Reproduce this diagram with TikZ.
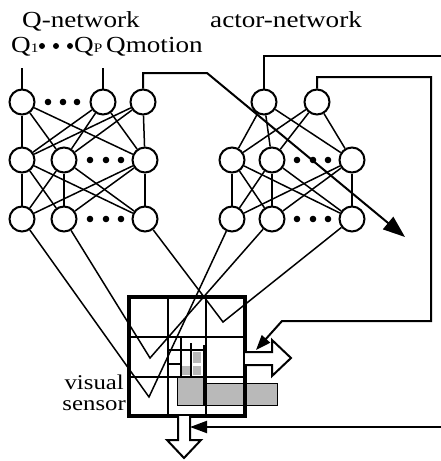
\documentclass[tikz,border=0pt]{standalone}
\usepackage{fontspec}
\setmainfont{Liberation Serif}[FakeStretch=1.18]
\usetikzlibrary{arrows.meta}

\begin{document}
\begin{tikzpicture}[x=1pt,y=-1pt,
  neuron/.style={circle,draw,line width=2pt,minimum size=25pt,inner sep=0pt},
  link/.style={line width=1.5pt},
  wire/.style={line width=2pt},
  lbl/.style={font=\fontsize{23}{23}\selectfont,inner sep=0pt,anchor=base west},
  side/.style={font=\fontsize{21}{21}\selectfont,inner sep=0pt,anchor=base east},
  hollow/.style={line width=2pt,fill=white,line join=miter},
  cell/.style={line width=1.8pt},
  fine/.style={line width=1.2pt},
  shade/.style={fill=gray!55},
]
\useasboundingbox (0,0) rectangle (441,461);

% ---------- titles and output labels ----------
\node[lbl] (tq) at (22,27) {Q-network};
\node[lbl] (ta) at (210,27) {actor-network};
\node[lbl] (lq1) at (11,52) {Q{\fontsize{13}{13}\selectfont 1}};
\node[lbl] (lqp) at (74,52) {Q{\fontsize{13}{13}\selectfont P}};
\node[lbl] (lqm) at (106,52) {Qmotion};
\foreach \x in {42,56,70} \fill (\x,46) circle (3pt);

\node[side] (tv) at (124,389) {visual};
\node[side] (ts) at (126,410) {sensor};

% ---------- Q-network neurons ----------
\node[neuron] (q11) at (22,102) {};
\node[neuron] (q12) at (103,102) {};
\node[neuron] (q13) at (143,102) {};
\node[neuron] (q21) at (22,160) {};
\node[neuron] (q22) at (64,160) {};
\node[neuron] (q23) at (145,160) {};
\node[neuron] (q31) at (22,219) {};
\node[neuron] (q32) at (64,219) {};
\node[neuron] (q33) at (145,219) {};

% ---------- actor-network neurons ----------
\node[neuron] (a11) at (264,102) {};
\node[neuron] (a12) at (317,102) {};
\node[neuron] (a21) at (232,160) {};
\node[neuron] (a22) at (272,160) {};
\node[neuron] (a23) at (352,160) {};
\node[neuron] (a31) at (232,219) {};
\node[neuron] (a32) at (272,219) {};
\node[neuron] (a33) at (352,219) {};

% ellipsis dots inside layers
\foreach \x in {48,63,77} \fill (\x,102) circle (3.3pt);
\foreach \y in {160,219} {
  \foreach \x in {90,106,121} \fill (\x,\y) circle (3.3pt);
  \foreach \x in {297,313,328} \fill (\x,\y) circle (3.3pt);
}

% full connections between layers
\foreach \i in {1,2,3} \foreach \j in {1,2,3} {
  \draw[link] (q1\i) -- (q2\j);
  \draw[link] (q2\i) -- (q3\j);
  \draw[link] (a2\i) -- (a3\j);
}
\foreach \i in {1,2} \foreach \j in {1,2,3}
  \draw[link] (a1\i) -- (a2\j);

% output leads of Q1 and QP
\coordinate (l1) at (22,68);
\coordinate (lp) at (103,68);
\draw[link] (l1) -- (q11);
\draw[link] (lp) -- (q12);

% ---------- visual sensor ----------
% shaded object regions
\filldraw[shade,line width=1pt] (177,377) -- (206,377) -- (206,383) -- (277,383)
  -- (277,405) -- (177,405) -- cycle;
\fill[shade] (193,352) rectangle (201,363);
\fill[shade] (182,366) rectangle (190,375);
\fill[shade] (193,366) rectangle (201,375);

% coarse cells
\draw[cell] (168,297) -- (168,416);
\draw[cell] (206,297) -- (206,416);
\draw[cell] (129,337) -- (245,337);
\draw[cell] (129,377) -- (245,377);
% finer cells around the fovea
\draw[fine] (168,350) -- (206,350);
\draw[fine] (181,337) -- (181,377);
\draw[fine] (168,364) -- (181,364);
\draw[line width=2.6pt] (181,355) -- (181,377);
\draw[line width=2.6pt] (191,343) -- (191,377);
\draw[line width=2.6pt] (204,345) -- (204,405);

% receptive-field points shared by both networks
\coordinate (v1) at (149,397);
\coordinate (v2) at (150,358);
\coordinate (v3) at (223,322);
\draw[link] (q31) -- (v1) -- (a31);
\draw[link] (q32) -- (v2) -- (a32);
\draw[link] (q33) -- (v3) -- (a33);

% sensor frame
\draw[line width=4pt] (129,297) rectangle (245,416);

% hollow output arrows
\draw[hollow] (245,352) -- (272,352) -- (272,340) -- (291,358) -- (272,376)
  -- (272,365) -- (245,365);
\draw[hollow] (178,416) -- (178,440) -- (167,440) -- (184,458) -- (201,440)
  -- (190,440) -- (190,416);

% ---------- feedback wiring ----------
\coordinate (mb) at (207,73);
\coordinate (mt) at (405,237);
\draw[wire,-{Triangle[length=22pt,width=16pt]}] (q13.north) |- (mb) -- (mt);

\coordinate (ta1) at (441,56);
\draw[wire] (a11.north) |- (ta1);

\coordinate (tb1) at (431,77);
\coordinate (tb2) at (282,321);
\coordinate (tb3) at (256,350);
\draw[wire,-{Triangle[length=15pt,width=11pt]}] (a12.north) |- (tb1) |- (tb2) -- (tb3);

\coordinate (bs) at (441,427);
\coordinate (be) at (190,427);
\draw[wire,-{Triangle[length=17pt,width=12pt]}] (bs) -- (be);
\end{tikzpicture}
\end{document}
